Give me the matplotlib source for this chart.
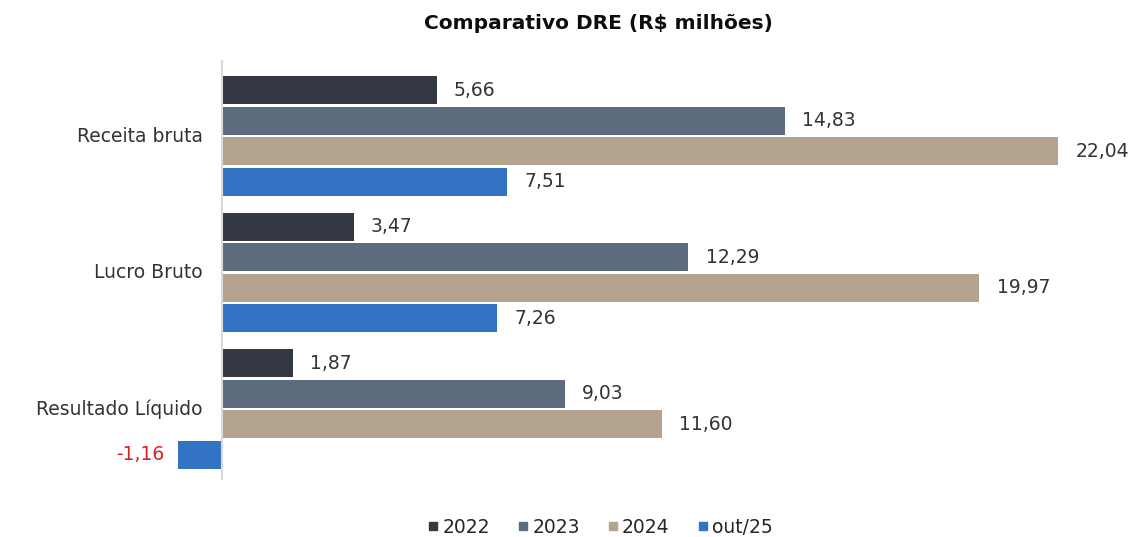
import numpy as np
import matplotlib
matplotlib.use("Agg")
import matplotlib.pyplot as plt
from matplotlib.lines import Line2D

# Data
categorias = ["Receita bruta", "Lucro Bruto", "Resultado Líquido"]
series = ["2022", "2023", "2024", "out/25"]
v2022 = [5.66, 3.47, 1.87]
v2023 = [14.83, 12.29, 9.03]
v2024 = [22.04, 19.97, 11.60]
vout25 = [7.51, 7.26, -1.16]

cores = ["#333842", "#5d6b7f", "#b3a38f", "#3373c4"]

plt.rcParams['font.family'] = ['DejaVu Sans']

fig = plt.figure(figsize=(11.38, 5.37), dpi=100)
ax = fig.add_axes([170 / 1138, 57 / 537, 930 / 1138, 420 / 537])

y = np.arange(len(categorias))
altura = 0.206
passo = 0.224
valores = [v2022, v2023, v2024, vout25]
fs = 13.5

for i, (nome, vals, cor) in enumerate(zip(series, valores, cores)):
    pos = y + (i - 1.5) * passo
    ax.barh(pos, vals, height=altura, color=cor, label=nome)
    for p, v in zip(pos, vals):
        txt = f"{v:.2f}".replace(".", ",")
        if v >= 0:
            ax.annotate(txt, (v, p), xytext=(12.5, 0), textcoords="offset points",
                        ha="left", va="center", fontsize=fs, color="#333333")
        else:
            ax.annotate(txt, (v, p), xytext=(-10, 0), textcoords="offset points",
                        ha="right", va="center", fontsize=fs, color="#e02020")

# category labels next to the zero line
for yy, c in zip(y, categorias):
    ax.annotate(c, (0, yy), xytext=(-14, 0), textcoords="offset points",
                ha="right", va="center", fontsize=fs, color="#333333")

ax.axvline(0, color="#d9d9d9", lw=1.5)
ax.set_xlim(-1.371, 23.148)
ax.set_ylim(2.52, -0.557)
ax.axis("off")

fig.text(0.526, 0.957, "Comparativo DRE (R$ milhões)", ha="center", va="center",
         fontsize=14.5, fontweight="bold", color="#0d0d0d")

handles = [Line2D([], [], marker="s", ls="none", color=c, markersize=5.5) for c in cores]
fig.legend(handles, series, loc="center", bbox_to_anchor=(0.527, 0.018), ncol=4,
           frameon=False, fontsize=fs, handletextpad=0.15, columnspacing=1.4,
           handlelength=0.7, labelcolor="#262626")

fig.savefig("out.png", dpi=100, facecolor="white")
